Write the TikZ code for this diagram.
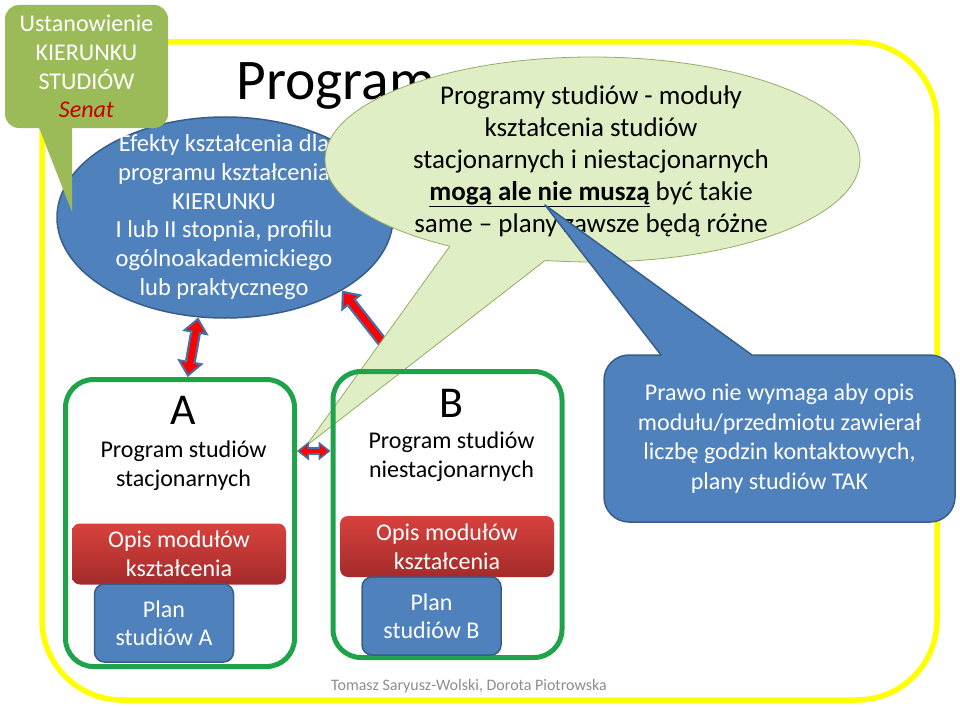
\documentclass[tikz,border=0pt]{standalone}
\usepackage{fontspec}
\setmainfont{Carlito}
\usetikzlibrary{arrows.meta}
\usetikzlibrary{calc}
\usetikzlibrary{shapes.geometric}
\definecolor{ramka}{HTML}{FFFF00}
\definecolor{senatgreen}{HTML}{9BBB59}
\definecolor{senatred}{HTML}{C00000}
\definecolor{ptblue}{HTML}{4F81BD}
\definecolor{ptblueedge}{HTML}{385D8A}
\definecolor{callgreen}{HTML}{E0EEC6}
\definecolor{calledge}{HTML}{98AA66}
\definecolor{boxgreen}{HTML}{1FA34A}
\definecolor{opistop}{HTML}{D8423D}
\definecolor{opisbot}{HTML}{A32B2A}
\definecolor{arrblue}{HTML}{4A6FA5}
\definecolor{footgray}{HTML}{8C8C8C}
\newcommand{\setfs}[2]{\fontsize{#1}{#2}\selectfont}

\begin{document}
\begin{tikzpicture}
		[x=1pt, y=-1pt,
		yframe/.style = {draw=ramka, line width=5.5pt, rounded corners=80pt},
		senatbox/.style = {fill=senatgreen, rounded corners=14pt, minimum width=163pt, minimum height=123pt, inner sep=0pt, text=white, align=center, font=\setfs{24}{28.7}},
		efekt/.style = {ellipse, fill=ptblue, draw=ptblueedge, line width=1.5pt, inner sep=0pt},
		dymek/.style = {ellipse, fill=callgreen, draw=calledge, line width=0.8pt, inner sep=0pt},
		progbox/.style = {draw=boxgreen, line width=5pt, rounded corners=28pt, minimum width=229pt, inner sep=0pt},
		opis/.style = {rounded corners=8pt, top color=opistop, bottom color=opisbot, minimum width=214pt, minimum height=61pt, inner sep=0pt, text=white, align=center, font=\setfs{24}{29}},
		plan/.style = {rounded corners=10pt, fill=ptblue, draw=ptblueedge, line width=1.5pt, minimum width=139pt, minimum height=78pt, inner sep=0pt, text=white, align=center, font=\setfs{24}{28}},
		prawobox/.style = {rounded corners=25pt, fill=ptblue, draw=ptblueedge, line width=1.5pt, minimum width=351pt, minimum height=167pt, inner sep=0pt, text=white, align=center, font=\setfs{24}{29.5}},
		bodytext/.style = {align=center, font=\setfs{24}{29}},
		fatarrow/.style = {draw=red, line width=6.5pt,
			{Triangle[length=10.4pt,width=17.6pt,line width=0pt]}-{Triangle[length=10.4pt,width=17.6pt,line width=0pt]},
			shorten <=3.4pt, shorten >=3.4pt,
			preaction={draw=arrblue, line width=11pt,
				{Triangle[length=16pt,width=27pt,line width=0pt]}-{Triangle[length=16pt,width=27pt,line width=0pt]},
				shorten <=0pt, shorten >=0pt}},
		halfarrow/.style = {draw=red, line width=6.5pt,
			{Triangle[length=10.4pt,width=17.6pt,line width=0pt]}-,
			shorten <=3.4pt,
			preaction={draw=arrblue, line width=11pt,
				{Triangle[length=16pt,width=27pt,line width=0pt]}-,
				shorten <=0pt}},
		smallarrow/.style = {draw=red, line width=4.5pt,
			{Triangle[length=7.5pt,width=11.8pt,line width=0pt]}-{Triangle[length=7.5pt,width=11.8pt,line width=0pt]},
			shorten <=2.8pt, shorten >=2.8pt,
			preaction={draw=arrblue, line width=8pt,
				{Triangle[length=12pt,width=19pt,line width=0pt]}-{Triangle[length=12pt,width=19pt,line width=0pt]},
				shorten <=0pt, shorten >=0pt}}
		]
		\useasboundingbox (0,0) rectangle (960,706);

		% ramka i tytul
		\draw[yframe] (42,42) rectangle (937,700);
		\node[anchor=base west, font=\setfs{57.5}{60}] (tytul) at (233,100) {Program};

		% efekty ksztalcenia
		\node[efekt, minimum width=336pt, minimum height=201pt] (efekty) at (225,217.5) {};
		\node[text=white, align=center, font=\setfs{24.5}{28.7}] (efektytxt) at (224,217) {Efekty kształcenia dla\\programu kształcenia\\KIERUNKU\\I lub II stopnia, profilu\\ogólnoakademickiego\\lub praktycznego};

		% ustanowienie kierunku
		\node[senatbox] (kierunek) at (86.5,66.5) {Ustanowienie\\KIERUNKU\\STUDIÓW\\\textcolor{senatred}{\itshape Senat}};
		\fill[senatgreen] (36,120) -- (72,212) -- (72,120) -- cycle;

		% strzalka do B (koniec pod dymkiem)
		\coordinate (ukryty) at (395,358);
		\draw[halfarrow] (efekty.328) -- (ukryty);

		% dymek programy studiow
		\node[dymek, minimum width=535pt, minimum height=205pt] (programy) at (592.5,159.5) {};
		\coordinate (dtip) at (306,446);
		\coordinate (dl) at (450,246);
		\coordinate (dr) at (545,260.5);
		\fill[callgreen] (454.7,239.5) -- (dtip) -- (551.3,256.1) -- cycle;
		\draw[calledge, line width=0.8pt, line join=round] (dl) -- (dtip) -- (dr);
		\node[align=center, font=\setfs{27}{32}] (programytxt) at (591,161) {Programy studiów - moduły\\kształcenia studiów\\stacjonarnych i niestacjonarnych\\\underline{\textbf{mogą ale nie muszą}} być takie\\same – plany zawsze będą różne};

		% program A
		\node[progbox, minimum height=287pt] (boxA) at (180,523) {};
		\node[font=\setfs{44}{50}] (literaA) at (183,410) {A};
		\node[bodytext] (progA) at (183.5,465.5) {Program studiów\\stacjonarnych};
		\node[opis] (opisA) at (179,554) {Opis modułów\\kształcenia};
		\node[plan] (planA) at (164,623) {Plan\\studiów A};

		% program B
		\node[progbox, minimum height=286pt] (boxB) at (447.5,514.5) {};
		\node[font=\setfs{44}{50}] (literaB) at (451,403) {B};
		\node[bodytext] (progB) at (451.5,456.5) {Program studiów\\niestacjonarnych};
		\node[opis] (opisB) at (447,546.5) {Opis modułów\\kształcenia};
		\node[plan] (planB) at (431.5,616) {Plan\\studiów B};

		% strzalki
		\coordinate (poziomAB) at (0,451);
		\draw[fatarrow] (efekty.255) -- (boxA.87);
		\draw[smallarrow] (boxA.east |- poziomAB) -- (boxB.west |- poziomAB);

		% prawo
		\node[prawobox] (prawo) at (779.5,438.5) {Prawo nie wymaga aby opis\\modułu/przedmiotu zawierał\\liczbę godzin kontaktowych,\\plany studiów TAK};
		\coordinate (ptip) at (545,205);
		\fill[ptblue] (665.6,361) -- (ptip) -- (760,361) -- cycle;
		\draw[ptblueedge, line width=1.5pt, line join=round] (661,355) -- (ptip) -- (752,355);

		% autorzy
		\node[text=footgray, font=\setfs{16}{19}] (autorzy) at (469,686) {Tomasz Saryusz-Wolski, Dorota Piotrowska};
	\end{tikzpicture}
\end{document}
